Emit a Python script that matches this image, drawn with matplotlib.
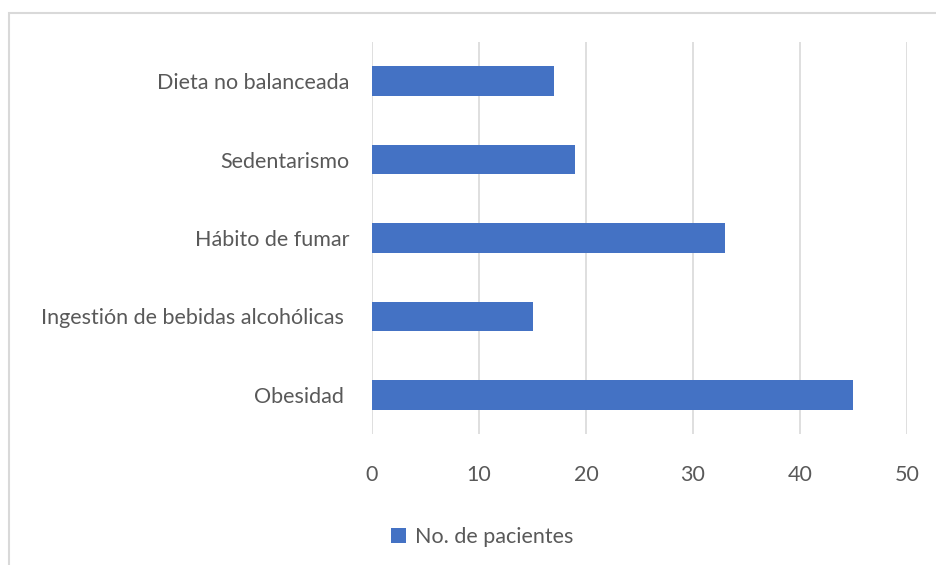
import matplotlib.pyplot as plt
from matplotlib.patches import Rectangle

categories = ["Obesidad ", "Ingestión de bebidas alcohólicas ", "Hábito de fumar",
              "Sedentarismo", "Dieta no balanceada"]
pacientes = [45, 15, 33, 19, 17]
x_ticks = [0, 10, 20, 30, 40, 50]
series_name = "No. de pacientes"

plt.rcParams['font.family'] = ['Lato', 'DejaVu Sans']
text_color = "#595959"

W, H = 936, 565
fig = plt.figure(figsize=(W / 100, H / 100), dpi=100)

# outer chart border (light gray)
fig.patches.append(Rectangle((9 / W, -0.05), 1.0, 1 - 13 / H + 0.05,
                             transform=fig.transFigure, fill=False,
                             edgecolor="#d9d9d9", linewidth=1.5))

ax = fig.add_axes([372 / W, 1 - 434 / H, (907 - 372) / W, (434 - 42) / H])
ax.barh(range(len(categories)), pacientes, height=0.38, color="#4472C4", zorder=3)

ax.set_xlim(0, 50)
ax.set_ylim(-0.5, len(categories) - 0.5)
ax.set_xticks(x_ticks)
ax.set_yticks(range(len(categories)))
ax.set_yticklabels(categories)
ax.grid(axis="x", color="#d9d9d9", linewidth=1.2, zorder=0)
for s in ax.spines.values():
    s.set_visible(False)
ax.tick_params(length=0, colors=text_color, labelsize=15.5)
ax.tick_params(axis="y", pad=16)
ax.tick_params(axis="x", pad=22)

ax.legend([series_name], loc="center", bbox_to_anchor=(482 / W, 1 - 537 / H),
          bbox_transform=fig.transFigure, frameon=False, fontsize=15.5,
          handlelength=0.7, handleheight=0.7, handletextpad=0.4,
          labelcolor=text_color)

plt.savefig("out.png", dpi=100)
